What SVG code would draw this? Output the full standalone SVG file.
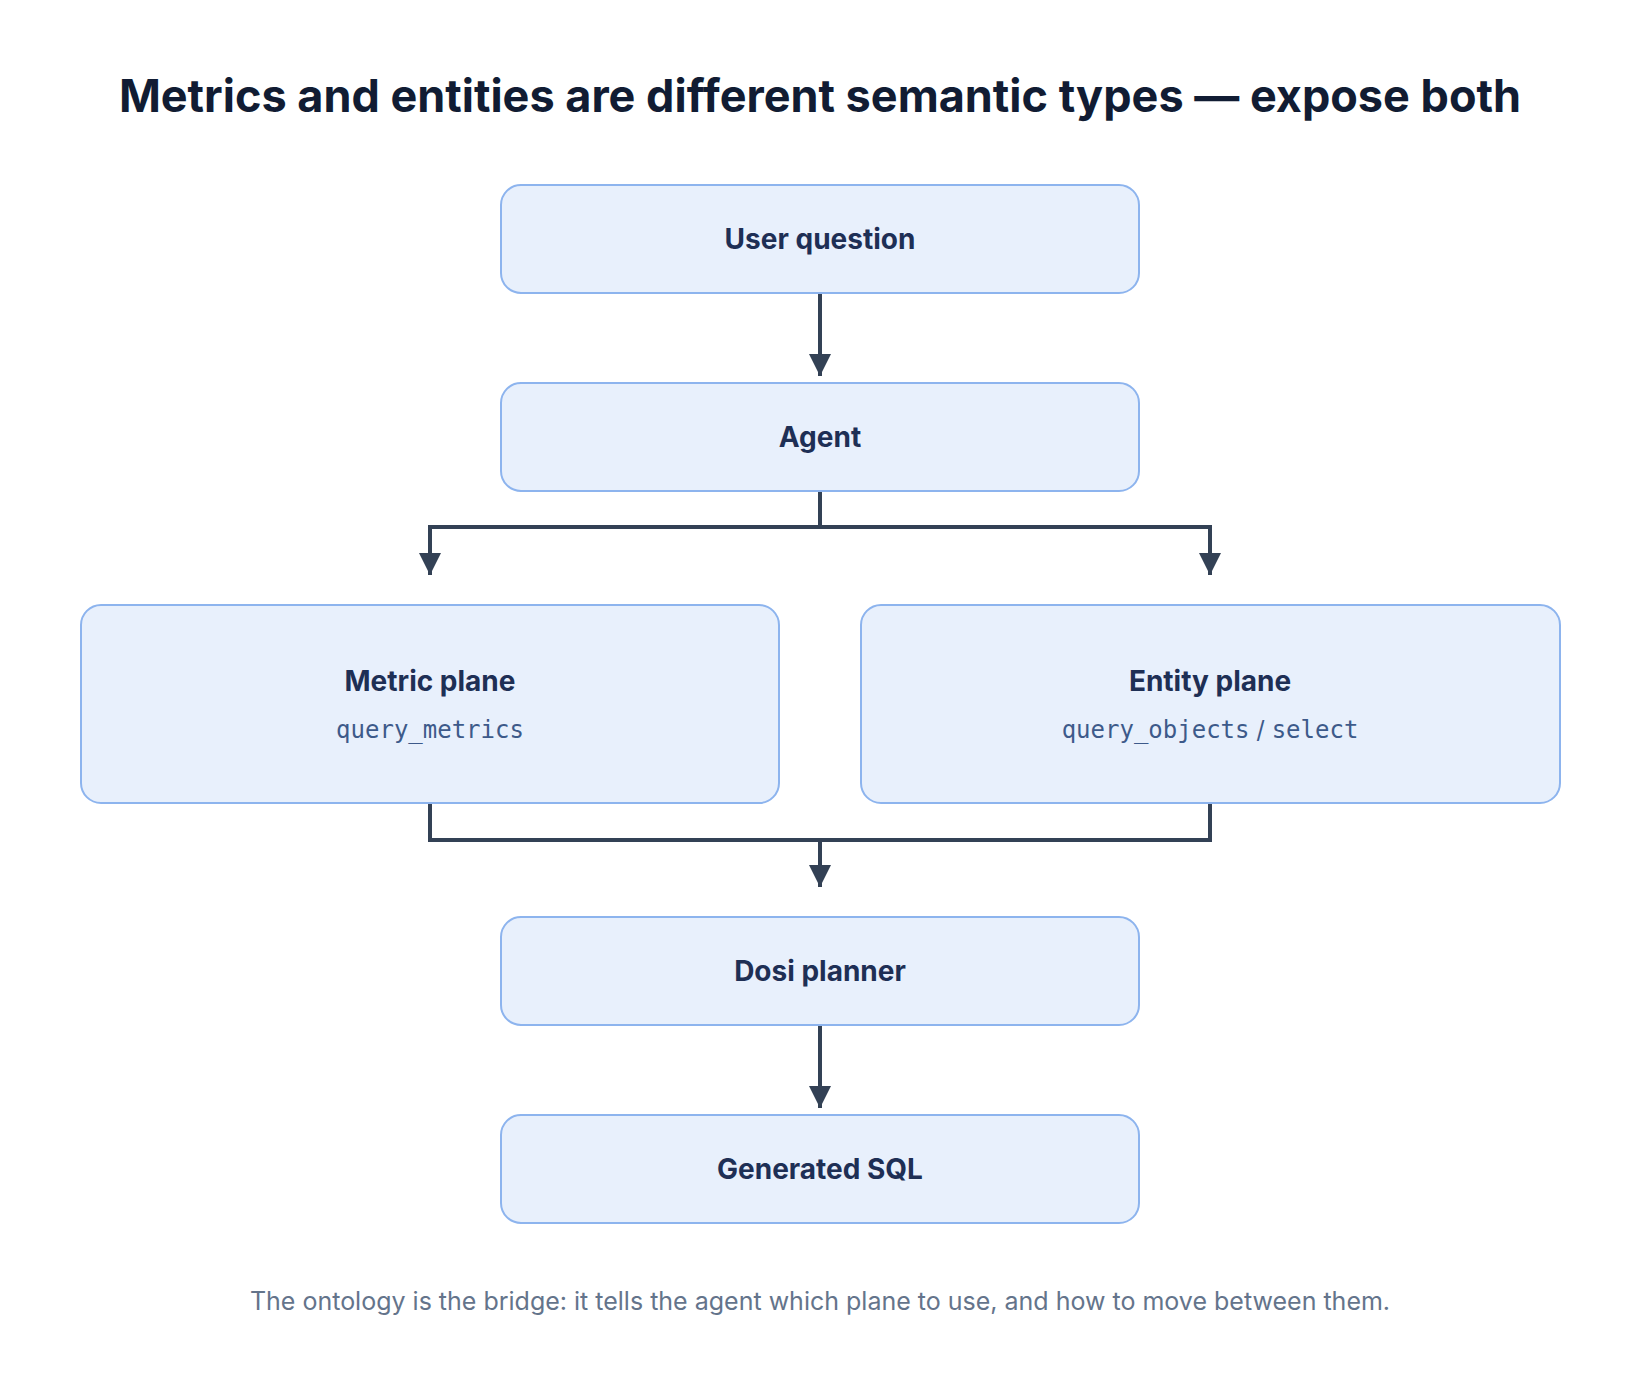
<svg xmlns="http://www.w3.org/2000/svg" width="1640" height="1376" viewBox="0 0 1640 1376">
<style>
.box{fill:#e8f0fc;stroke:#8db4ee;stroke-width:2}
.lbl{font-family:Inter,"Liberation Sans",sans-serif;font-weight:700;font-size:28px;fill:#1e2f55;text-anchor:middle}
.mono{font-family:"DejaVu Sans Mono","Liberation Mono",monospace;font-size:24px;fill:#3d5a8a}
.ln{fill:none;stroke:#334155;stroke-width:4}
</style>
<defs><marker id="ah" viewBox="0 0 10 10" refX="10" refY="5" markerWidth="5.5" markerHeight="5.5" markerUnits="strokeWidth" orient="auto"><path d="M0,0L10,5L0,10z" fill="#334155"/></marker></defs>
<rect width="1640" height="1376" fill="#fff"/>
<text x="820" y="112" text-anchor="middle" font-family="Inter,'Liberation Sans',sans-serif" font-weight="700" font-size="45" fill="#111c33">Metrics and entities are different semantic types — expose both</text>
<g id="connectors">
<path class="ln" d="M820,293V376" marker-end="url(#ah)"/>
<path class="ln" d="M820,491V527H430V575" marker-end="url(#ah)"/>
<path class="ln" d="M820,527H1210V575" marker-end="url(#ah)"/>
<path class="ln" d="M430,803V840H1210V803"/>
<path class="ln" d="M820,840V887" marker-end="url(#ah)"/>
<path class="ln" d="M820,1025V1108" marker-end="url(#ah)"/>
</g>
<g id="user"><rect class="box" x="501" y="185" width="638" height="108" rx="20"/><text class="lbl" x="820" y="249">User question</text></g>
<g id="agent"><rect class="box" x="501" y="383" width="638" height="108" rx="20"/><text class="lbl" x="820" y="447">Agent</text></g>
<g id="metric"><rect class="box" x="81" y="605" width="698" height="198" rx="20"/><text class="lbl" x="430" y="691">Metric plane</text><text class="mono" x="430" y="738" text-anchor="middle">query_metrics</text></g>
<g id="entity"><rect class="box" x="861" y="605" width="699" height="198" rx="20"/><text class="lbl" x="1210" y="691">Entity plane</text><text x="1210" y="738" text-anchor="middle" class="mono"><tspan>query_objects</tspan><tspan font-family="Inter,'Liberation Sans',sans-serif"> / </tspan><tspan>select</tspan></text></g>
<g id="dosi"><rect class="box" x="501" y="917" width="638" height="108" rx="20"/><text class="lbl" x="820" y="981">Dosi planner</text></g>
<g id="sql"><rect class="box" x="501" y="1115" width="638" height="108" rx="20"/><text class="lbl" x="820" y="1179">Generated SQL</text></g>
<text x="820" y="1310" text-anchor="middle" font-family="Inter,'Liberation Sans',sans-serif" font-size="25" fill="#64748b">The ontology is the bridge: it tells the agent which plane to use, and how to move between them.</text>
</svg>
